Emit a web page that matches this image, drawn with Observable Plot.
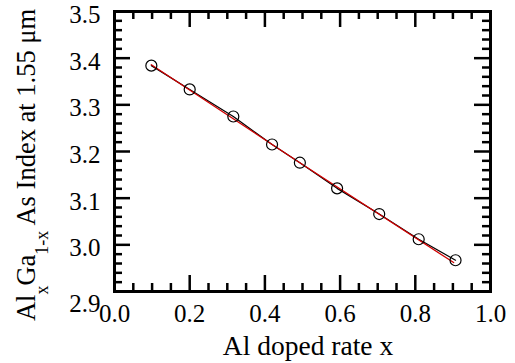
<!DOCTYPE html>
<html>
<head>
<meta charset="utf-8">
<script src="https://cdn.jsdelivr.net/npm/d3@7"></script>
<script src="https://cdn.jsdelivr.net/npm/@observablehq/plot@0.6"></script>
<style>
  html, body { margin: 0; padding: 0; background: white; }
</style>
</head>
<body>
<div id="chart"></div>
<script>
// Data
const alRate  = [0.098, 0.200, 0.316, 0.419, 0.493, 0.592, 0.704, 0.809, 0.907];
const index155 = [3.384, 3.333, 3.275, 3.215, 3.176, 3.121, 3.066, 3.012, 2.967];
// fitted (red) line
const fitX = [0.098, 0.500, 0.902];
const fitY = [3.386, 3.172, 2.962];

// tick values
const xMajor = [0.0, 0.2, 0.4, 0.6, 0.8, 1.0];
const xMinor = [0.05, 0.1, 0.15, 0.25, 0.3, 0.35, 0.45, 0.5, 0.55, 0.65, 0.7, 0.75, 0.85, 0.9, 0.95];
const yMajor = [2.9, 3.0, 3.1, 3.2, 3.3, 3.4, 3.5];
const yMinor = [2.92, 2.94, 2.96, 2.98, 3.02, 3.04, 3.06, 3.08, 3.12, 3.14, 3.16, 3.18,
                3.22, 3.24, 3.26, 3.28, 3.32, 3.34, 3.36, 3.38, 3.42, 3.44, 3.46, 3.48];
const yLabelTicks = [3.0, 3.1, 3.2, 3.3, 3.4, 3.5];
const yLabelLow = [2.9];

const xLabel = "Al doped rate x";

const points = alRate.map((x, i) => ({x, y: index155[i]}));
const fit = fitX.map((x, i) => ({x, y: fitY[i]}));

const W = 515, H = 363;
const mL = 114, mR = 25, mT = 11, mB = 72;
const iW = W - mL - mR, iH = H - mT - mB;
const majLen = 16, minLen = 8;
const fmt = d3.format(".1f");
const serif = "Liberation Serif, serif";

const chart = Plot.plot({
  width: W,
  height: H,
  marginLeft: mL,
  marginRight: mR,
  marginTop: mT,
  marginBottom: mB,
  x: {domain: [0, 1], label: null},
  y: {domain: [2.9, 3.5], label: null},
  marks: [
    // ticks, inside, on all four sides
    Plot.tickX(xMajor, {x: d => d, insetTop: iH - majLen, stroke: "black", strokeWidth: 2.5}),
    Plot.tickX(xMajor, {x: d => d, insetBottom: iH - majLen, stroke: "black", strokeWidth: 2.5}),
    Plot.tickX(xMinor, {x: d => d, insetTop: iH - minLen, stroke: "black", strokeWidth: 2.5}),
    Plot.tickX(xMinor, {x: d => d, insetBottom: iH - minLen, stroke: "black", strokeWidth: 2.5}),
    Plot.tickY(yMajor, {y: d => d, insetRight: iW - majLen, stroke: "black", strokeWidth: 2.5}),
    Plot.tickY(yMajor, {y: d => d, insetLeft: iW - majLen, stroke: "black", strokeWidth: 2.5}),
    Plot.tickY(yMinor, {y: d => d, insetRight: iW - minLen, stroke: "black", strokeWidth: 2.5}),
    Plot.tickY(yMinor, {y: d => d, insetLeft: iW - minLen, stroke: "black", strokeWidth: 2.5}),
    Plot.frame({stroke: "black", strokeWidth: 3}),
    // tick labels
    Plot.axisX({ticks: xMajor, tickSize: 0, tickPadding: 13, tickFormat: fmt, fontSize: 25, label: null}),
    Plot.axisY({ticks: yLabelTicks, tickSize: 0, tickPadding: 14, dy: 3.5, tickFormat: fmt, fontSize: 25, label: null}),
    Plot.axisY({ticks: yLabelLow, tickSize: 0, tickPadding: 14, dy: 12.5, tickFormat: fmt, fontSize: 25, label: null}),
    // data
    Plot.line(points, {x: "x", y: "y", stroke: "black", strokeWidth: 1.2}),
    Plot.line(fit, {x: "x", y: "y", stroke: "#d00000", strokeWidth: 1.3}),
    Plot.dot(points, {x: "x", y: "y", r: 5.5, stroke: "black", strokeWidth: 1.2, fill: "none"})
  ]
});

const svg = d3.select(chart);
svg.attr("font-family", serif).style("background", "white");
svg.selectAll("[font-family]").attr("font-family", serif);
// x axis title
svg.append("text")
  .attr("x", 308).attr("y", 355)
  .attr("text-anchor", "middle")
  .attr("font-family", serif)
  .attr("font-size", 27.5)
  .attr("fill", "black")
  .text(xLabel);
// y axis title with subscripts
const yl = svg.append("text")
  .attr("transform", "translate(35,165) rotate(-90)")
  .attr("text-anchor", "middle")
  .attr("font-family", serif)
  .attr("font-size", 26.5)
  .attr("fill", "black");
yl.append("tspan").text("Al");
yl.append("tspan").attr("font-size", 18).attr("dy", 13).text("x");
yl.append("tspan").attr("dy", -13).text("Ga");
yl.append("tspan").attr("font-size", 18).attr("dy", 13).text("1-x");
yl.append("tspan").attr("dy", -13).text(" As Index at 1.55 μm");

document.getElementById("chart").appendChild(chart);
</script>
</body>
</html>
